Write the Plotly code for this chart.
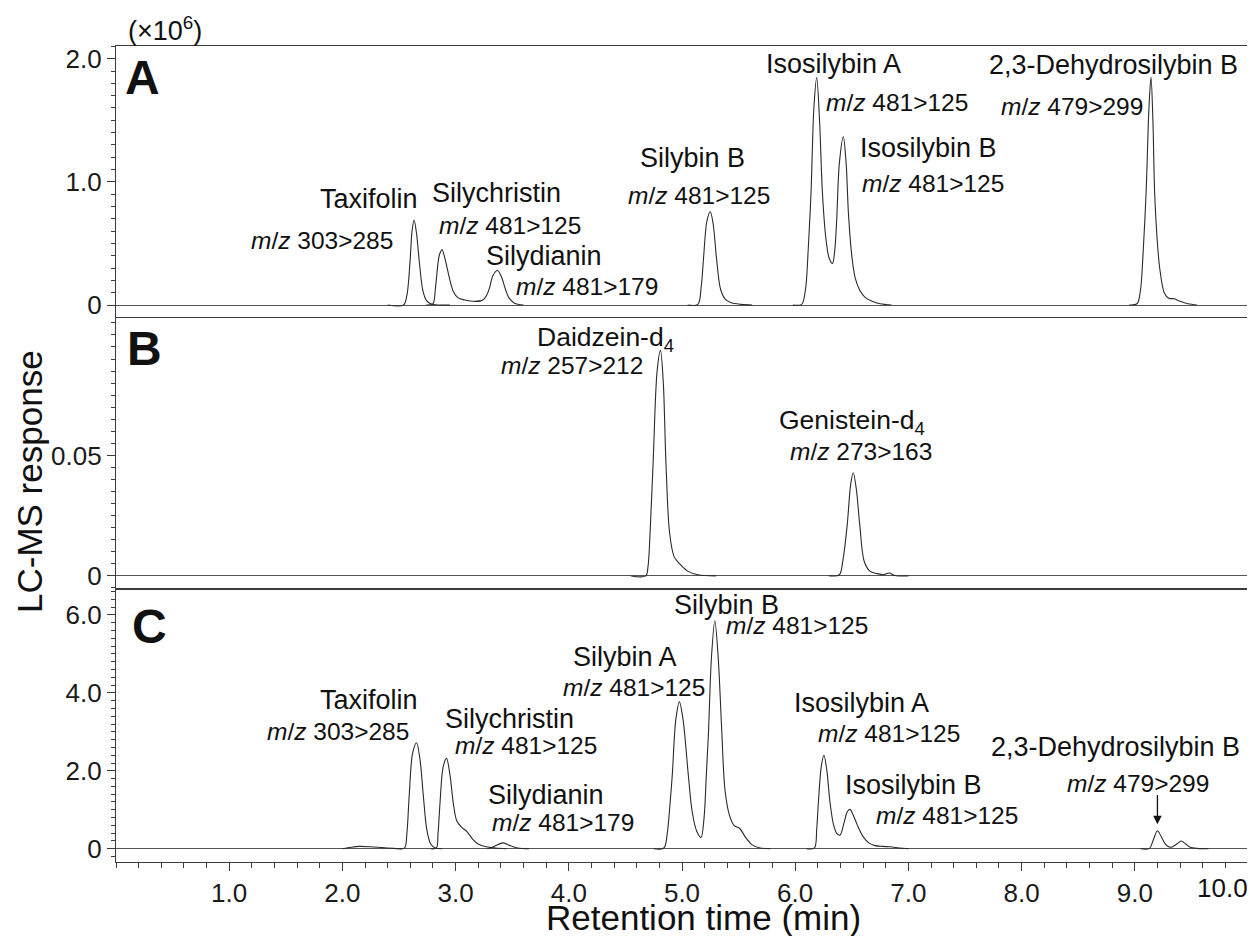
import plotly.graph_objects as go

# ---------------- data (retention time in min, response) ----------------
# Panel A (x10^6)
a_taxifolin_t = [2.40, 2.54, 2.57, 2.597, 2.615, 2.633, 2.655, 2.68, 2.71, 2.74, 2.78, 2.85, 2.95]
a_taxifolin_v = [0, 0, 0.08, 0.345, 0.60, 0.69, 0.58, 0.345, 0.12, 0.04, 0.01, 0, 0]

a_silychristin_t = [2.74, 2.80, 2.82, 2.832, 2.855, 2.88, 2.905, 2.944, 2.98, 3.02, 3.08, 3.15, 3.22]
a_silychristin_v = [0, 0.01, 0.12, 0.225, 0.40, 0.45, 0.38, 0.225, 0.11, 0.06, 0.04, 0.03, 0.03]

a_silydianin_t = [3.18, 3.24, 3.28, 3.30, 3.33, 3.37, 3.405, 3.436, 3.47, 3.52, 3.60]
a_silydianin_v = [0.03, 0.04, 0.09, 0.14, 0.24, 0.28, 0.23, 0.14, 0.06, 0.015, 0]

a_silybinB_t = [5.05, 5.14, 5.17, 5.19, 5.22, 5.25, 5.275, 5.305, 5.34, 5.38, 5.43, 5.52, 5.62]
a_silybinB_v = [0, 0.005, 0.15, 0.378, 0.68, 0.757, 0.66, 0.378, 0.13, 0.05, 0.02, 0.005, 0]

a_isosilybin_t = [5.98, 6.057, 6.09, 6.115, 6.14, 6.165, 6.19, 6.215, 6.24, 6.27, 6.30, 6.33,
                  6.35, 6.366, 6.39, 6.425, 6.45, 6.47, 6.50, 6.53, 6.57, 6.62, 6.68, 6.75, 6.85]
a_isosilybin_v = [0, 0.005, 0.12, 0.45, 0.92, 1.6, 1.846, 1.5, 0.92, 0.55, 0.38, 0.338,
                  0.45, 0.68, 1.15, 1.365, 1.15, 0.75, 0.40, 0.22, 0.12, 0.06, 0.03, 0.01, 0]

a_dhsb_t = [8.95, 9.02, 9.05, 9.07, 9.10, 9.125, 9.143, 9.16, 9.175, 9.20, 9.22, 9.26, 9.30, 9.35, 9.40, 9.47, 9.55]
a_dhsb_v = [0, 0.01, 0.12, 0.365, 0.92, 1.6, 1.85, 1.5, 0.92, 0.5, 0.3, 0.1, 0.055, 0.05, 0.03, 0.01, 0]

# Panel B
b_daidzein_t = [4.55, 4.68, 4.70, 4.72, 4.745, 4.78, 4.81, 4.835, 4.858, 4.89, 4.93, 4.98, 5.05, 5.14, 5.30]
b_daidzein_v = [0, 0, 0.004, 0.02, 0.047, 0.085, 0.0936, 0.08, 0.047, 0.018, 0.008, 0.005, 0.002, 0.0005, 0]

b_genistein_t = [6.30, 6.39, 6.42, 6.46, 6.49, 6.513, 6.54, 6.57, 6.61, 6.66, 6.72, 6.78, 6.83, 6.88, 7.00]
b_genistein_v = [0, 0.0005, 0.006, 0.0214, 0.038, 0.0428, 0.036, 0.0214, 0.006, 0.002, 0.001, 0.0005, 0.0012, 0.0002, 0]

# Panel C
c_hump_t = [2.00, 2.08, 2.15, 2.25, 2.35, 2.45, 2.52]
c_hump_v = [0, 0.04, 0.06, 0.05, 0.03, 0.01, 0]

c_taxifolin_t = [2.50, 2.55, 2.57, 2.59, 2.62, 2.655, 2.685, 2.715, 2.745, 2.78, 2.82, 2.88]
c_taxifolin_v = [0, 0.02, 0.40, 1.36, 2.45, 2.72, 2.30, 1.36, 0.50, 0.12, 0.02, 0]

c_silychristin_t = [2.78, 2.83, 2.845, 2.862, 2.89, 2.92, 2.95, 2.98, 3.01, 3.05, 3.10, 3.15, 3.20, 3.27, 3.35, 3.45]
c_silychristin_v = [0, 0.02, 0.40, 1.16, 2.10, 2.32, 1.90, 1.16, 0.72, 0.56, 0.44, 0.25, 0.12, 0.05, 0.02, 0]

c_silydianin_t = [3.28, 3.34, 3.42, 3.48, 3.55, 3.65]
c_silydianin_v = [0, 0.06, 0.15, 0.08, 0.02, 0]

c_silybin_t = [4.75, 4.84, 4.87, 4.89, 4.914, 4.945, 4.977, 5.01, 5.056, 5.09, 5.13, 5.168, 5.195, 5.215,
               5.233, 5.26, 5.29, 5.32, 5.35, 5.38, 5.42, 5.46, 5.51, 5.56, 5.62, 5.69, 5.78]
c_silybin_v = [0, 0.02, 0.40, 1.00, 1.885, 3.30, 3.77, 3.30, 1.885, 0.95, 0.45, 0.29, 0.80, 1.90,
               2.925, 4.90, 5.85, 4.90, 3.10, 1.50, 0.85, 0.60, 0.52, 0.30, 0.10, 0.02, 0]

c_isosilybin_t = [6.10, 6.17, 6.19, 6.205, 6.23, 6.254, 6.28, 6.307, 6.34, 6.37, 6.396, 6.43, 6.46, 6.484,
                  6.51, 6.55, 6.60, 6.65, 6.705, 6.77, 6.84, 6.92, 7.00]
c_isosilybin_v = [0, 0.02, 0.50, 1.20, 2.10, 2.40, 2.00, 1.20, 0.60, 0.38, 0.35, 0.65, 0.95, 1.01,
                  0.88, 0.60, 0.31, 0.15, 0.08, 0.06, 0.05, 0.02, 0]

c_dhsb_t = [9.05, 9.13, 9.16, 9.20, 9.235, 9.27, 9.30, 9.326, 9.37, 9.41, 9.45, 9.49, 9.55, 9.65]
c_dhsb_v = [0, 0.01, 0.20, 0.46, 0.30, 0.12, 0.05, 0.04, 0.12, 0.20, 0.12, 0.04, 0.01, 0]

x_tick_vals = [1, 2, 3, 4, 5, 6, 7, 8, 9]
x_tick_text = ["1.0", "2.0", "3.0", "4.0", "5.0", "6.0", "7.0", "8.0", "9.0"]
ya_vals, ya_text = [0, 1, 2], ["0", "1.0", "2.0"]
yb_vals, yb_text = [0, 0.05], ["0", "0.05"]
yc_vals, yc_text = [0, 2, 4, 6], ["0", "2.0", "4.0", "6.0"]

# ---------------- figure ----------------
FONT = "Liberation Sans, Arial, sans-serif"
LINE = "#2a2a2a"
AX = "#3c3c3c"

fig = go.Figure()

def add(t, v, xa, ya):
    fig.add_trace(go.Scatter(x=t, y=v, mode="lines", xaxis=xa, yaxis=ya,
                             line=dict(color=LINE, width=1.1, shape="spline", smoothing=0.9),
                             hoverinfo="skip", showlegend=False))

for t, v in [(a_taxifolin_t, a_taxifolin_v), (a_silychristin_t, a_silychristin_v),
             (a_silydianin_t, a_silydianin_v), (a_silybinB_t, a_silybinB_v),
             (a_isosilybin_t, a_isosilybin_v), (a_dhsb_t, a_dhsb_v)]:
    add(t, v, "x", "y")
for t, v in [(b_daidzein_t, b_daidzein_v), (b_genistein_t, b_genistein_v)]:
    add(t, v, "x2", "y2")
for t, v in [(c_hump_t, c_hump_v), (c_taxifolin_t, c_taxifolin_v), (c_silychristin_t, c_silychristin_v),
             (c_silydianin_t, c_silydianin_v), (c_silybin_t, c_silybin_v),
             (c_isosilybin_t, c_isosilybin_v), (c_dhsb_t, c_dhsb_v)]:
    add(t, v, "x3", "y3")

# the page body has an 8px margin: figure is 8px smaller and offset by it
H = 816.0
def dom(top_px, bot_px):
    lo = max(0.0, (862 - bot_px) / H)
    hi = min(1.0, (862 - top_px) / H)
    return [lo, hi]

xbase = dict(range=[0, 10], showline=True, mirror=True, linecolor=AX, linewidth=1.3,
             showgrid=False, zeroline=False, automargin=False)
ybase = dict(showline=True, mirror=True, linecolor=AX, linewidth=1.3, showgrid=False,
             zeroline=True, zerolinecolor="#555555", zerolinewidth=1, automargin=False,
             ticks="outside", ticklen=8, tickwidth=1, tickcolor=AX,
             tickfont=dict(family=FONT, size=26, color="#1a1a1a"), tickmode="array")

fig.update_layout(
    width=1247, height=928,
    margin=dict(l=108, r=7, t=38, b=74, autoexpand=False),
    paper_bgcolor="white", plot_bgcolor="white",
    xaxis=dict(**xbase, domain=[0, 1], anchor="y", matches="x3", showticklabels=False, ticks=""),
    xaxis2=dict(**xbase, domain=[0, 1], anchor="y2", matches="x3", showticklabels=False, ticks=""),
    xaxis3=dict(**xbase, domain=[0, 1], anchor="y3", tickmode="array", tickvals=x_tick_vals,
                ticktext=x_tick_text, ticks="outside", ticklen=8, tickwidth=1, tickcolor=AX,
                tickfont=dict(family=FONT, size=26, color="#1a1a1a"),
                minor=dict(dtick=0.2, tick0=0, ticks="outside", ticklen=5, tickwidth=1, tickcolor=AX)),
    yaxis=dict(**ybase, domain=dom(46, 316.7), anchor="x", range=[-0.095, 2.103],
               tickvals=ya_vals, ticktext=ya_text,
               minor=dict(dtick=0.1, tick0=0, ticks="outside", ticklen=4, tickwidth=1, tickcolor=AX)),
    yaxis2=dict(**ybase, domain=dom(318.3, 588.6), anchor="x2", range=[-0.00526, 0.1069],
                tickvals=yb_vals, ticktext=yb_text,
                minor=dict(dtick=0.005, tick0=0, ticks="outside", ticklen=4, tickwidth=1, tickcolor=AX)),
    yaxis3=dict(**ybase, domain=dom(589.2, 862), anchor="x3", range=[-0.34, 6.66],
                tickvals=yc_vals, ticktext=yc_text,
                minor=dict(dtick=0.2, tick0=0, ticks="outside", ticklen=4, tickwidth=1, tickcolor=AX)),
)

ann = []
def lab(text, x, y, xr, yr, size=27, **kw):
    d = dict(text=text, x=x, y=y, xref=xr, yref=yr, showarrow=False,
             xanchor="center", yanchor="middle",
             font=dict(family=FONT, size=size, color="#111111"))
    d.update(kw)
    ann.append(d)

MZ = "<i>m</i>/<i>z</i> "
MS = 24.5
# Panel A
for text, x, y in [("Taxifolin", 2.236, 0.857), ("Silychristin", 3.363, 0.906),
                   ("Silydianin", 3.785, 0.397), ("Silybin B", 5.097, 1.19),
                   ("Isosilybin A", 6.334, 1.96), ("Isosilybin B", 7.176, 1.271),
                   ("2,3-Dehydrosilybin B", 8.81, 1.952)]:
    lab(text, x, y, "x", "y")
for text, x, y in [(MZ + "303>285", 1.821, 0.527), (MZ + "481>125", 3.478, 0.649),
                   (MZ + "481>179", 4.165, 0.154), (MZ + "481>125", 5.152, 0.892),
                   (MZ + "481>125", 6.897, 1.644), (MZ + "481>125", 7.215, 0.987),
                   (MZ + "479>299", 8.443, 1.614)]:
    lab(text, x, y, "x", "y", size=MS)
# Panel B
for text, x, y in [("Daidzein-d<sub>4</sub>", 4.324, 0.0985), ("Genistein-d<sub>4</sub>", 6.502, 0.064)]:
    lab(text, x, y, "x2", "y2", size=26.5)
for text, x, y in [(MZ + "257>212", 4.03, 0.0874), (MZ + "273>163", 6.577, 0.0515)]:
    lab(text, x, y, "x2", "y2", size=MS)
# Panel C
for text, x, y in [("Taxifolin", 2.234, 3.813), ("Silychristin", 3.472, 3.318),
                   ("Silydianin", 3.801, 1.377), ("Silybin A", 4.496, 4.923),
                   ("Silybin B", 5.392, 6.249), ("Isosilybin A", 6.589, 3.744),
                   ("Isosilybin B", 7.043, 1.633), ("2,3-Dehydrosilybin B", 8.832, 2.615)]:
    lab(text, x, y, "x3", "y3")
for text, x, y in [(MZ + "303>285", 1.965, 3.0), (MZ + "481>125", 3.622, 2.659),
                   (MZ + "481>179", 3.949, 0.667), (MZ + "481>125", 4.58, 4.138),
                   (MZ + "481>125", 6.02, 5.736), (MZ + "481>125", 6.829, 2.959),
                   (MZ + "481>125", 7.344, 0.864), (MZ + "479>299", 9.027, 1.677)]:
    lab(text, x, y, "x3", "y3", size=MS)

# panel letters
lab("<b>A</b>", 0.23, 1.845, "x", "y", size=48)
lab("<b>B</b>", 0.256, 0.0944, "x2", "y2", size=48)
lab("<b>C</b>", 0.30, 5.71, "x3", "y3", size=48)

# arrow to 2,3-dehydrosilybin B in C
ann.append(dict(x=9.2, y=0.63, xref="x3", yref="y3", ax=9.2, ay=1.42, axref="x3", ayref="y3",
                text="", showarrow=True, arrowhead=2, arrowsize=1.3, arrowwidth=1.3, arrowcolor="#111111"))

# scale, axis titles, last tick label
lab("(×10<sup>6</sup>)", (165 - 116) / 1132, (862 - 29) / H, "paper", "paper", size=27)
lab("10.0", 1.0 + 2 / 1132, (862 - 888) / H, "paper", "paper", size=26, xanchor="right")
lab("Retention time (min)", (703.5 - 116) / 1132, (862 - 917) / H, "paper", "paper", size=35)
lab("LC-MS response", (29 - 116) / 1132, (862 - 482) / H, "paper", "paper", size=35, textangle=-90)

fig.update_layout(annotations=ann)
fig.write_html("out.html")
